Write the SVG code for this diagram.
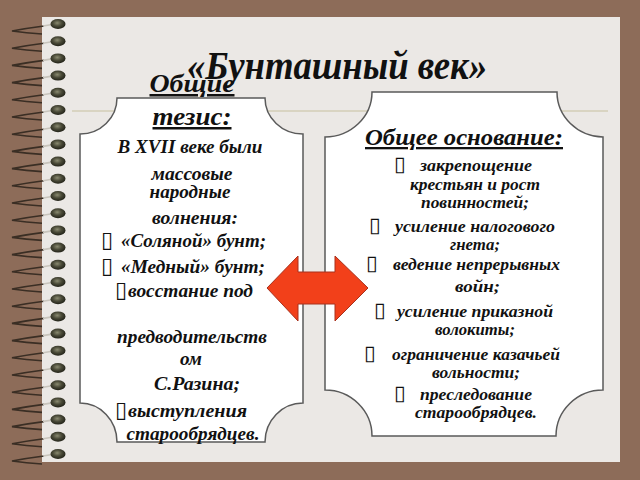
<svg xmlns="http://www.w3.org/2000/svg" xmlns:xlink="http://www.w3.org/1999/xlink" width="640" height="480" viewBox="0 0 640 480">
<style>
.box{fill:#ffffff;stroke:#5a5a5a;stroke-width:1.5}
.t{font-family:"Liberation Serif","Times New Roman",serif;font-weight:bold;font-style:italic;fill:#111}
.l{font-size:18.5px}
.h{font-size:25px;text-decoration:underline}
.r{font-size:16.5px}
.rh{font-size:23px;text-decoration:underline}
.b{font-family:"DejaVu Sans",sans-serif;font-style:normal;font-weight:normal}
</style>
<defs>
<radialGradient id="dotg" cx="0.45" cy="0.4" r="0.6">
<stop offset="0" stop-color="#8a8a70"/>
<stop offset="0.5" stop-color="#4a4a38"/>
<stop offset="1" stop-color="#222218"/>
</radialGradient>
<g id="ring">
<path d="M 44 2 Q 28 4 12 7 Q 26 9 42 10" fill="none" stroke="#3a2e24" stroke-width="1.6"/>
<path d="M 43 2 L 52 0.5" fill="none" stroke="#c8c4bc" stroke-width="1.6"/>
<ellipse cx="58" cy="0" rx="7.5" ry="5" fill="url(#dotg)"/>
</g>
</defs>
<rect x="0" y="0" width="640" height="480" fill="#8d6c59"/>
<rect x="42" y="17" width="578" height="445" fill="#ebe8e5"/>
<line x1="72" y1="111" x2="608" y2="111" stroke="#d9d4c2" stroke-width="2"/>
<g id="spiral">
<use xlink:href="#ring" y="24"/><use xlink:href="#ring" y="41.2"/><use xlink:href="#ring" y="58.4"/><use xlink:href="#ring" y="75.6"/><use xlink:href="#ring" y="92.8"/><use xlink:href="#ring" y="110"/><use xlink:href="#ring" y="127.2"/><use xlink:href="#ring" y="144.4"/><use xlink:href="#ring" y="161.6"/><use xlink:href="#ring" y="178.8"/><use xlink:href="#ring" y="196"/><use xlink:href="#ring" y="213.2"/><use xlink:href="#ring" y="230.4"/><use xlink:href="#ring" y="247.6"/><use xlink:href="#ring" y="264.8"/><use xlink:href="#ring" y="282"/><use xlink:href="#ring" y="299.2"/><use xlink:href="#ring" y="316.4"/><use xlink:href="#ring" y="333.6"/><use xlink:href="#ring" y="350.8"/><use xlink:href="#ring" y="368"/><use xlink:href="#ring" y="385.2"/><use xlink:href="#ring" y="402.4"/><use xlink:href="#ring" y="419.6"/><use xlink:href="#ring" y="436.8"/><use xlink:href="#ring" y="454"/>
</g>
<g id="title">
<text class="t" x="337" y="79" font-size="40" text-anchor="middle" textLength="300" lengthAdjust="spacingAndGlyphs">«Бунташный век»</text>
</g>
<g id="left-box">
<path class="box" d="M 117 98 L 265 98 A 38 36 0 0 0 303 134 L 303 403 A 38 39 0 0 0 265 442 L 117 442 A 37 39 0 0 0 80 403 L 80 134 A 37 36 0 0 0 117 98 Z"/>
<text class="t h" x="192" y="92" text-anchor="middle" textLength="85" lengthAdjust="spacingAndGlyphs">Общие</text>
<text class="t h" x="192" y="125" text-anchor="middle" textLength="79" lengthAdjust="spacingAndGlyphs">тезис:</text>
<text class="t l" x="190" y="153" text-anchor="middle" textLength="145" lengthAdjust="spacingAndGlyphs">В XVII веке были</text>
<text class="t l" x="192" y="180" text-anchor="middle" textLength="81" lengthAdjust="spacingAndGlyphs">массовые</text>
<text class="t l" x="190" y="198" text-anchor="middle" textLength="81" lengthAdjust="spacingAndGlyphs">народные</text>
<text class="t l" x="195" y="224" text-anchor="middle" textLength="86" lengthAdjust="spacingAndGlyphs">волнения:</text>
<text class="t l" y="247"><tspan class="b" x="101" font-size="22">▯</tspan><tspan x="121" textLength="145" lengthAdjust="spacingAndGlyphs">«Соляной» бунт;</tspan></text>
<text class="t l" y="273"><tspan class="b" x="101" font-size="22">▯</tspan><tspan x="121" textLength="144" lengthAdjust="spacingAndGlyphs">«Медный» бунт;</tspan></text>
<text class="t l" y="297"><tspan class="b" x="115" font-size="22">▯</tspan><tspan x="128" textLength="125" lengthAdjust="spacingAndGlyphs">восстание под</tspan></text>
<text class="t l" x="192" y="343" text-anchor="middle" textLength="150" lengthAdjust="spacingAndGlyphs">предводительств</text>
<text class="t l" x="191" y="365" text-anchor="middle" textLength="22" lengthAdjust="spacingAndGlyphs">ом</text>
<text class="t l" x="197" y="390" text-anchor="middle" textLength="86" lengthAdjust="spacingAndGlyphs">С.Разина;</text>
<text class="t l" y="417"><tspan class="b" x="115" font-size="22">▯</tspan><tspan x="128" textLength="119" lengthAdjust="spacingAndGlyphs">выступления</tspan></text>
<text class="t l" x="193" y="440" text-anchor="middle" textLength="133" lengthAdjust="spacingAndGlyphs">старообрядцев.</text>
</g>
<g id="right-box">
<path class="box" d="M 372 92 L 557 92 A 47 45 0 0 0 603 137 L 603 390 A 47 46 0 0 0 556 436 L 372 436 A 47 46 0 0 0 325 390 L 325 137 A 47 45 0 0 0 372 92 Z"/>
<text class="t rh" x="464" y="145" text-anchor="middle" textLength="198" lengthAdjust="spacingAndGlyphs">Общее основание:</text>
<text class="t r" y="171"><tspan class="b" x="394" font-size="21">▯</tspan><tspan x="420" textLength="112" lengthAdjust="spacingAndGlyphs">закрепощение</tspan></text>
<text class="t r" x="410" y="190" textLength="130" lengthAdjust="spacingAndGlyphs">крестьян и рост</text>
<text class="t r" x="421" y="208" textLength="108" lengthAdjust="spacingAndGlyphs">повинностей;</text>
<text class="t r" y="232"><tspan class="b" x="369" font-size="21">▯</tspan><tspan x="395" textLength="160" lengthAdjust="spacingAndGlyphs">усиление налогового</tspan></text>
<text class="t r" x="450" y="250" textLength="50" lengthAdjust="spacingAndGlyphs">гнета;</text>
<text class="t r" y="270"><tspan class="b" x="366" font-size="21">▯</tspan><tspan x="393" textLength="167" lengthAdjust="spacingAndGlyphs">ведение непрерывных</tspan></text>
<text class="t r" x="455" y="292" textLength="45" lengthAdjust="spacingAndGlyphs">войн;</text>
<text class="t r" y="317"><tspan class="b" x="374" font-size="21">▯</tspan><tspan x="397" textLength="156" lengthAdjust="spacingAndGlyphs">усиление приказной</tspan></text>
<text class="t r" x="435" y="335" textLength="80" lengthAdjust="spacingAndGlyphs">волокиты;</text>
<text class="t r" y="360"><tspan class="b" x="364" font-size="21">▯</tspan><tspan x="392" textLength="168" lengthAdjust="spacingAndGlyphs">ограничение казачьей</tspan></text>
<text class="t r" x="432" y="378" textLength="88" lengthAdjust="spacingAndGlyphs">вольности;</text>
<text class="t r" y="400"><tspan class="b" x="394" font-size="21">▯</tspan><tspan x="420" textLength="112" lengthAdjust="spacingAndGlyphs">преследование</tspan></text>
<text class="t r" x="415" y="418" textLength="122" lengthAdjust="spacingAndGlyphs">старообрядцев.</text>
</g>
<g id="connectors">
<polygon points="267,288 298,256 298,272 335,272 335,256 368,288 335,321 335,304 298,304 298,321" fill="#f2401a" stroke="#a8301c" stroke-width="1"/>
</g>
</svg>
